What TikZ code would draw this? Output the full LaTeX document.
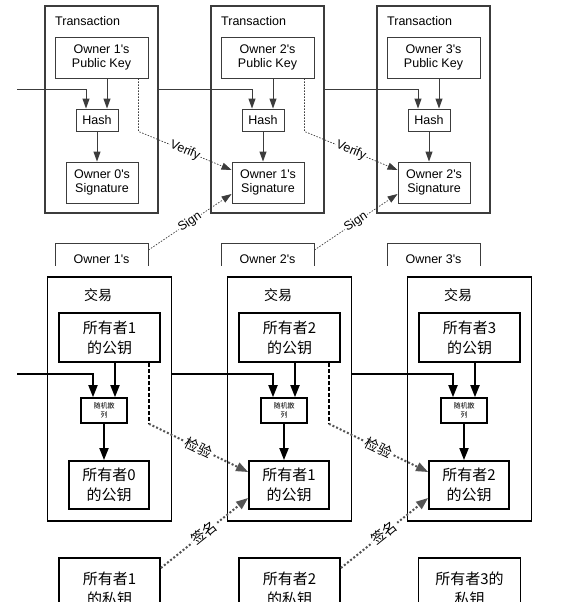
\documentclass[tikz,border=0pt]{standalone}
\usepackage{fontspec}
\newfontfamily\enfont{Liberation Sans}
\newfontfamily\cjkfont{Noto Sans CJK SC}
\usetikzlibrary{arrows.meta}
\definecolor{engray}{HTML}{3C3C3C}
\definecolor{dotgray}{HTML}{555555}
\tikzset{
  entx/.style={draw=engray, line width=1.1pt, inner sep=0pt},
  enbox/.style={draw=engray, line width=0.9pt, inner sep=0pt, align=center,
    font=\enfont\fontsize{12.5}{14.5}\selectfont},
  enlabel/.style={inner sep=0pt, font=\enfont\fontsize{12.5}{14.5}\selectfont},
  enarrow/.style={draw=engray, line width=0.9pt, -{Triangle[length=10pt,width=7pt]}},
  enverify/.style={draw=engray, line width=0.7pt, dash pattern=on 1.5pt off 1.5pt,
    -{Triangle[length=10pt,width=7pt]}},
  enlab/.style={sloped, fill=white, inner sep=1pt, font=\enfont\fontsize{12.5}{14}\selectfont},
  cntx/.style={draw=black, line width=1.8pt, inner sep=0pt},
  cnbox/.style={draw=black, line width=1.8pt, inner sep=0pt, align=center,
    font=\cjkfont\fontsize{15}{20}\selectfont},
  cnhash/.style={draw=black, line width=1.6pt, inner sep=0pt, align=center,
    font=\cjkfont\fontsize{7}{9}\selectfont},
  cnlabel/.style={inner sep=0pt, font=\cjkfont\fontsize{14}{16}\selectfont},
  cnarrow/.style={draw=black, line width=1.8pt, -{Triangle[length=12pt,width=9pt]}},
  cndashed/.style={draw=black, line width=1.8pt, dash pattern=on 4pt off 2pt},
  cndotted/.style={draw=dotgray, line width=2pt, dash pattern=on 2pt off 2pt,
    -{Triangle[length=12pt,width=9pt]}},
  cnlab/.style={sloped, fill=white, inner sep=2pt, font=\cjkfont\fontsize{14}{16}\selectfont},
}
\begin{document}
\begin{tikzpicture}[x=1pt,y=-1pt]
\useasboundingbox (0,0) rectangle (573,602);
\clip (0,0) rectangle (573,602);
% ---------------- English part ----------------
\begin{scope}
\clip (0,0) rectangle (573,265);
\foreach \i in {1,2,3}{
  \pgfmathsetmacro{\cx}{101.5+166*(\i-1)}
  \pgfmathtruncatemacro{\p}{\i-1}
  \node[entx, minimum width=113, minimum height=207] (T\i) at (\cx,109.5) {};
  \node[enlabel, anchor=west] (TL\i) at (\cx-46.5,21) {Transaction};
  \node[enbox, minimum width=93, minimum height=41] (PK\i) at (\cx,57.5) {Owner \i's\\Public Key};
  \node[enbox, minimum width=42, minimum height=22] (H\i) at (\cx-4.5,120) {Hash};
  \node[enbox, minimum width=72, minimum height=41] (S\i) at (\cx+0.5,182.5) {Owner \p's\\Signature};
  \node[enbox, minimum width=93, minimum height=32, anchor=north] (PR\i) at (\cx,243) {Owner \i's};
}
\coordinate (ein1) at (17,89);
\coordinate (ein2) at (T1.east |- 0,89);
\coordinate (ein3) at (T2.east |- 0,89);
\foreach \i in {1,2,3}{
  \draw[enarrow] (ein\i) -| ([xshift=-11pt]H\i.north);
  \draw[enarrow] ([xshift=10pt]H\i.north |- PK\i.south) -- ([xshift=10pt]H\i.north);
  \draw[enarrow] (H\i.south) -- (H\i.south |- S\i.north);
}
\foreach \i/\j in {1/2,2/3}{
  \draw[enverify] ([xshift=-10pt]PK\i.south east) -- ([xshift=-10pt]PK\i.south east |- H\i.south)
    -- node[enlab] {Verify} ([yshift=12.5pt]S\j.west);
  \draw[enverify] ([yshift=-7pt]PR\i.north east) -- node[enlab] {Sign} ([yshift=-11.5pt]S\j.west);
}
\end{scope}
% ---------------- Chinese part ----------------
\foreach \i in {1,2,3}{
  \pgfmathsetmacro{\cx}{109.5+180*(\i-1)}
  \pgfmathtruncatemacro{\p}{\i-1}
  \node[cntx, minimum width=124, minimum height=244] (C\i) at (\cx,399) {};
  \node[cnlabel] (CL\i) at (\cx-11.5,295) {交易};
  \node[cnbox, minimum width=101, minimum height=49] (CPK\i) at (\cx,337.5) {所有者\i\\的公钥};
  \node[cnhash, minimum width=46, minimum height=25] (CH\i) at (\cx-5.5,410.5) {随机散\\列};
  \node[cnbox, minimum width=80, minimum height=48] (CS\i) at (\cx-0.5,485) {所有者\p\\的公钥};
}
\node[cnbox, minimum width=101, minimum height=61, anchor=north] (CPR1) at (109.5,557) {所有者1\\的私钥};
\node[cnbox, minimum width=101, minimum height=61, anchor=north] (CPR2) at (289.5,557) {所有者2\\的私钥};
\node[cnbox, minimum width=102, minimum height=61, anchor=north] (CPR3) at (469.5,557) {所有者3的\\私钥};
\coordinate (cin1) at (17,374);
\coordinate (cin2) at (C1.east |- 0,374);
\coordinate (cin3) at (C2.east |- 0,374);
\foreach \i in {1,2,3}{
  \draw[cnarrow] (cin\i) -| ([xshift=-11pt]CH\i.north);
  \draw[cnarrow] ([xshift=11pt]CH\i.north |- CPK\i.south) -- ([xshift=11pt]CH\i.north);
  \draw[cnarrow] (CH\i.south) -- (CH\i.south |- CS\i.north);
}
\foreach \i/\j in {1/2,2/3}{
  \coordinate (cv\i) at ([xshift=-12pt]CPK\i.south east |- CH\i.south);
  \draw[cndashed] ([xshift=-12pt]CPK\i.south east) -- (cv\i);
  \draw[cndotted] (cv\i) -- node[cnlab] {检验} ([yshift=13pt]CS\j.west);
  \draw[cndotted] ([yshift=-11pt]CPR\i.north east) -- node[cnlab] {签名} ([yshift=-13pt]CS\j.west);
}
\end{tikzpicture}
\end{document}
